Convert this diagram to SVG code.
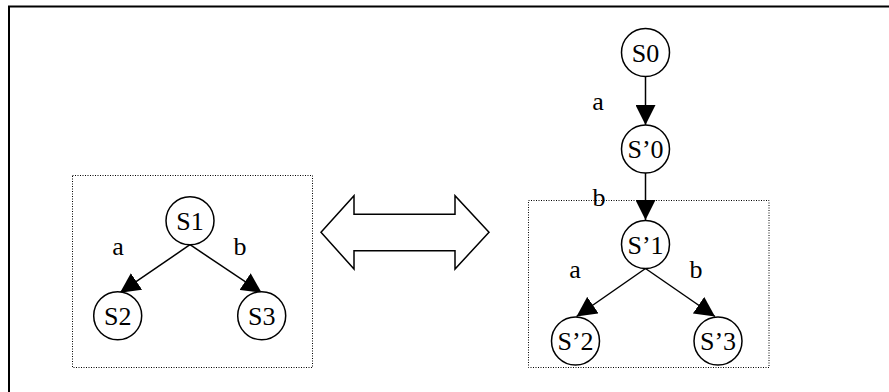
<svg xmlns="http://www.w3.org/2000/svg" width="889" height="392" viewBox="0 0 889 392">
<style>
.st{fill:#fff;stroke:#000;stroke-width:1.5}
.t{font-family:"Liberation Serif","Times New Roman",serif;font-size:26px;fill:#000;text-anchor:middle}
.e{stroke:#000;stroke-width:1.5;fill:none;marker-end:url(#ah)}
.box{fill:none;stroke:#000;stroke-width:1;stroke-dasharray:1 1.5}
</style>
<defs>
<marker id="ah" viewBox="0 0 20 20" refX="20" refY="10" markerWidth="20" markerHeight="20" markerUnits="userSpaceOnUse" orient="auto">
<path d="M0,0 L20,10 L0,20 z" fill="#000"/>
</marker>
</defs>
<rect width="889" height="392" fill="#fff"/>
<rect x="9" y="6.5" width="900" height="400" fill="none" stroke="#000" stroke-width="2"/>
<rect class="box" x="72.5" y="175.5" width="240" height="192"/>
<rect class="box" x="528.5" y="200.5" width="240.5" height="167"/>
<polygon points="321,232.3 354,195.7 354,214.3 455,214.3 455,195.7 489,232.3 455,269 455,250.7 354,250.7 354,269" fill="#fff" stroke="#000" stroke-width="1.5"/>
<g id="edges">
<line class="e" x1="190" y1="244.7" x2="120" y2="292.7"/>
<line class="e" x1="190" y1="244.7" x2="261.7" y2="292.7"/>
<line class="e" x1="645.5" y1="76.5" x2="645.5" y2="125"/>
<line class="e" x1="645.5" y1="173" x2="645.5" y2="220"/>
<line class="e" x1="645.5" y1="268.5" x2="576.5" y2="316.5"/>
<line class="e" x1="645.5" y1="268.5" x2="715" y2="316.5"/>
<text class="t" x="118" y="255">a</text>
<text class="t" x="240" y="255">b</text>
<text class="t" x="598" y="110">a</text>
<text class="t" x="599" y="206">b</text>
<text class="t" x="575" y="278">a</text>
<text class="t" x="696" y="278">b</text>
</g>
<g id="S1"><circle class="st" cx="190" cy="220.7" r="24"/><text class="t" x="190" y="230">S1</text></g>
<g id="S2"><circle class="st" cx="117.7" cy="315.7" r="24"/><text class="t" x="117.7" y="325">S2</text></g>
<g id="S3"><circle class="st" cx="261.7" cy="315.7" r="24"/><text class="t" x="261.7" y="325">S3</text></g>
<g id="S0"><circle class="st" cx="645.5" cy="52.5" r="24"/><text class="t" x="645.5" y="61.8">S0</text></g>
<g id="Sp0"><circle class="st" cx="645.5" cy="149" r="24"/><text class="t" x="645.5" y="158.3">S’0</text></g>
<g id="Sp1"><circle class="st" cx="645.5" cy="244.5" r="24"/><text class="t" x="645.5" y="253.8">S’1</text></g>
<g id="Sp2"><circle class="st" cx="575.5" cy="341" r="24"/><text class="t" x="575.5" y="350.3">S’2</text></g>
<g id="Sp3"><circle class="st" cx="718" cy="341" r="24"/><text class="t" x="718" y="350.3">S’3</text></g>
</svg>
